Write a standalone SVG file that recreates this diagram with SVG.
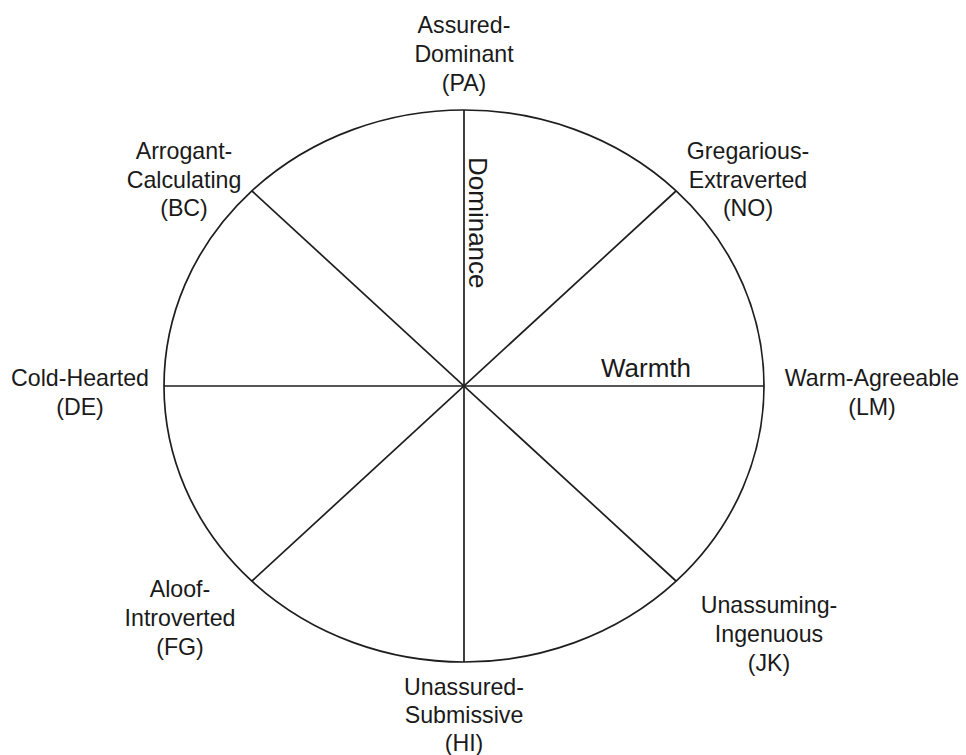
<svg xmlns="http://www.w3.org/2000/svg" width="966" height="755" viewBox="0 0 966 755">
<style>
.ln{stroke:#1e1e1e;stroke-width:1.7;fill:none}
text{font-family:"Liberation Sans",Arial,sans-serif;font-size:23.2px;fill:#1a1a1a;text-anchor:middle}
.ax{font-size:26px;text-anchor:start}
</style>
<rect width="966" height="755" fill="#fff"/>
<g id="wheel">
<ellipse class="ln" cx="464" cy="386" rx="300" ry="276"/>
</g>
<g id="connectors">
<line class="ln" x1="464" y1="110" x2="464" y2="662"/>
<line class="ln" x1="164" y1="386" x2="764" y2="386"/>
<line class="ln" x1="252" y1="191" x2="676" y2="581"/>
<line class="ln" x1="676" y1="191" x2="252" y2="581"/>
</g>
<g id="axis-dominance"><text class="ax" transform="translate(469,157) rotate(90)">Dominance</text></g>
<g id="axis-warmth"><text class="ax" x="601" y="377">Warmth</text></g>
<g id="PA"><text x="464" y="33">Assured-</text><text x="464" y="62">Dominant</text><text x="464" y="91">(PA)</text></g>
<g id="BC"><text x="184" y="159">Arrogant-</text><text x="184" y="188">Calculating</text><text x="184" y="216">(BC)</text></g>
<g id="NO"><text x="748" y="159">Gregarious-</text><text x="748" y="188">Extraverted</text><text x="748" y="216">(NO)</text></g>
<g id="DE"><text x="80" y="386">Cold-Hearted</text><text x="80" y="415">(DE)</text></g>
<g id="LM"><text x="872" y="386">Warm-Agreeable</text><text x="872" y="415">(LM)</text></g>
<g id="FG"><text x="180" y="597">Aloof-</text><text x="180" y="626">Introverted</text><text x="180" y="655">(FG)</text></g>
<g id="JK"><text x="769" y="613">Unassuming-</text><text x="769" y="642">Ingenuous</text><text x="769" y="671">(JK)</text></g>
<g id="HI"><text x="464" y="695">Unassured-</text><text x="464" y="723">Submissive</text><text x="464" y="751">(HI)</text></g>
</svg>
